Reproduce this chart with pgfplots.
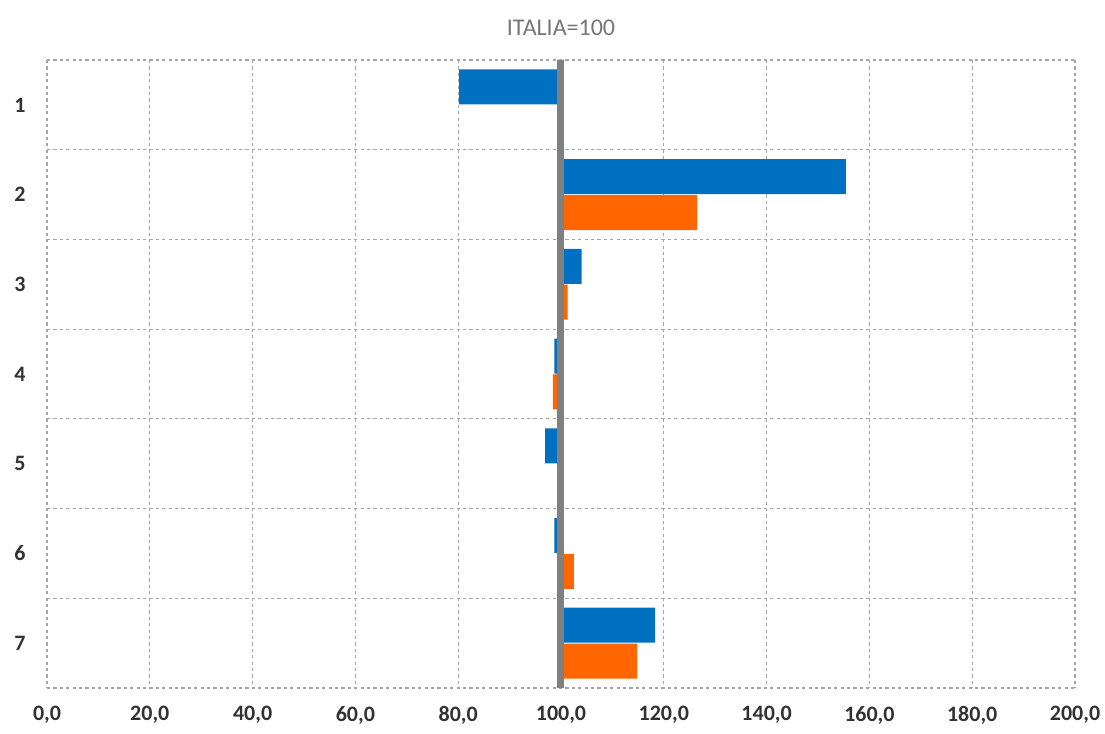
\documentclass[border=0pt]{standalone}
\usepackage{fontspec}
\setmainfont{Carlito}
\usepackage{pgfplots}
\pgfplotsset{compat=1.18}
\definecolor{barblue}{RGB}{0,112,192}
\definecolor{barorange}{RGB}{255,102,0}
\definecolor{gridgray}{RGB}{165,165,165}
\definecolor{midgray}{RGB}{128,128,128}
\definecolor{ticktext}{RGB}{50,50,50}
\definecolor{titlegray}{RGB}{118,118,118}
\begin{document}
\begin{tikzpicture}
\begin{axis}[
  scale only axis, width=514pt, height=314pt,
  xmin=0, xmax=200, ymin=0.5, ymax=7.5, y dir=reverse,
  x coord trafo/.code={\pgfmathparse{#1-100}},
  x coord inv trafo/.code={\pgfmathparse{#1+100}},
  xtick={0,20,...,200},
  xticklabels={{0,0},{20,0},{40,0},{60,0},{80,0},{100,0},{120,0},{140,0},{160,0},{180,0},{200,0}},
  ytick={1,2,3,4,5,6,7},
  yticklabels={1,2,3,4,5,6,7},
  minor ytick={0.5,1.5,...,7.5},
  xmajorgrids, yminorgrids, ymajorgrids=false,
  grid style={gridgray, line width=0.6pt, dash pattern=on 1.6pt off 1.6pt},
  minor grid style={gridgray, line width=0.6pt, dash pattern=on 1.6pt off 1.6pt},
  major tick length=0pt, minor tick length=0pt,
  axis line style={draw=none},
  tick label style={font=\fontsize{11}{13}\selectfont\bfseries, text=ticktext},
  xticklabel style={anchor=center, yshift=-13.5pt},
  yticklabel style={anchor=center, xshift=-13.5pt},
  clip=false,
]
\addplot[xbar, bar width=0.39, bar shift=-0.2, fill=barblue, draw=none]
  coordinates {(80.2,1) (155.4,2) (104.0,3) (98.7,4) (96.9,5) (98.7,6) (118.3,7)};
\addplot[xbar, bar width=0.39, bar shift=0.2, fill=barorange, draw=none]
  coordinates {(100,1) (126.5,2) (101.3,3) (98.4,4) (100,5) (102.5,6) (114.8,7)};
\draw[midgray, line width=3.5pt] (axis cs:100,0.5) -- (axis cs:100,7.5);
\end{axis}
\node[font=\fontsize{12}{14}\selectfont, text=titlegray] at (257pt,330pt) {ITALIA=100};
\pgfresetboundingbox
\path (-23.5pt,-23pt) rectangle (529pt,344pt);
\end{tikzpicture}
\end{document}
